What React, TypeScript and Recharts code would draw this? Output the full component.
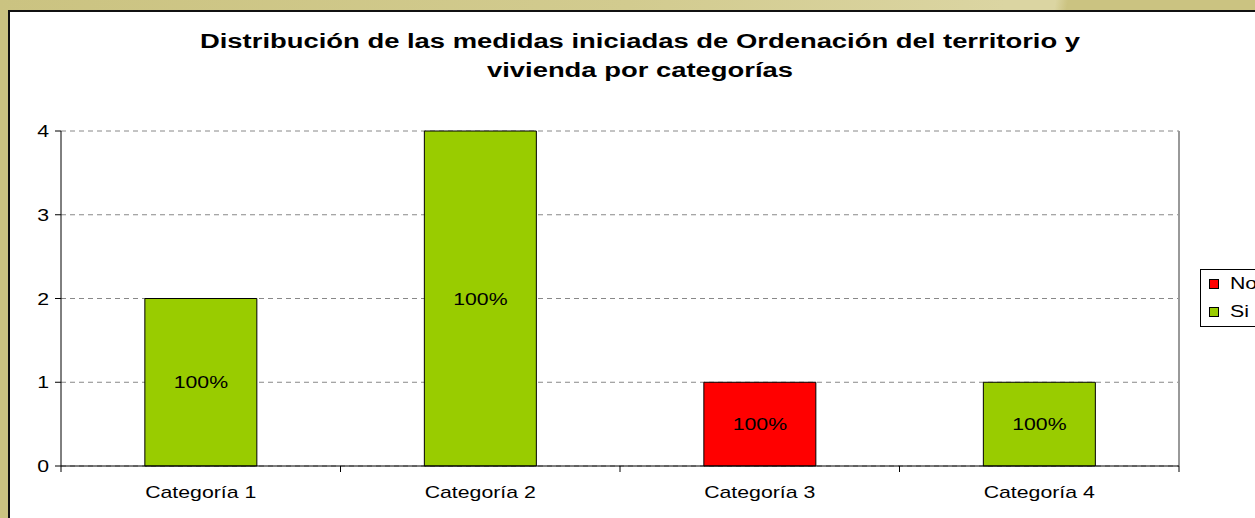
import React from 'react';
import {
    BarChart,
    Bar,
    XAxis,
    YAxis,
    CartesianGrid,
    LabelList
} from 'recharts';

// values
const categories = ['Categoría 1', 'Categoría 2', 'Categoría 3', 'Categoría 4'];
const noValues = [0, 0, 1, 0];
const siValues = [2, 4, 0, 1];
const yTicks = [0, 1, 2, 3, 4];
const titleLines = [
    'Distribución de las medidas iniciadas de Ordenación del territorio y',
    'vivienda por categorías'
];
const seriesNames = { no: 'No', si: 'Si' };

const W = 1255;
const H = 518;
const PLOT_LEFT = 61;
const PLOT_RIGHT = 1179;
const PLOT_TOP = 131;
const PLOT_BOTTOM = 466;
const X_AXIS_H = 30;
const Y_AXIS_W = 40;
const FONT = '"Liberation Sans", Arial, sans-serif';
const STRETCH = 1.33;
const GREEN = '#99CC00';
const RED = '#FF0000';

const chartData = categories.map((name, i) => {
    const total = noValues[i] + siValues[i];
    return {
        name,
        no: noValues[i],
        si: siValues[i],
        noPct: total ? Math.round((noValues[i] / total) * 100) : 0,
        siPct: total ? Math.round((siValues[i] / total) * 100) : 0,
    };
});

const halfBand = (PLOT_RIGHT - PLOT_LEFT) / categories.length / 2;

const CategoryTick = (props: any) => {
    const { x, payload, index } = props;
    const cx = payload?.coordinate ?? x;
    const half = payload?.offset || halfBand;
    return (
        <g>
            <line x1={cx - half} x2={cx - half} y1={PLOT_BOTTOM} y2={PLOT_BOTTOM + 6} stroke="#000" />
            {index === categories.length - 1 && (
                <line x1={cx + half} x2={cx + half} y1={PLOT_BOTTOM} y2={PLOT_BOTTOM + 6} stroke="#000" />
            )}
            <text
                transform={`translate(${cx},${PLOT_BOTTOM + 32}) scale(${STRETCH},1)`}
                textAnchor="middle"
                fontSize={16}
                fontFamily={FONT}
                fill="#000"
            >
                {payload.value}
            </text>
        </g>
    );
};

const ValueTick = (props: any) => {
    const { x, y, payload } = props;
    return (
        <text
            transform={`translate(${x - 4},${y + 6}) scale(${STRETCH},1)`}
            textAnchor="end"
            fontSize={16}
            fontFamily={FONT}
            fill="#000"
        >
            {payload.value}
        </text>
    );
};

const PctLabel = (props: any) => {
    const vb = props.viewBox ?? props;
    const { value } = props;
    if (!value) return null;
    const cx = vb.x + vb.width / 2;
    const cy = vb.y + vb.height / 2;
    return (
        <text
            transform={`translate(${cx},${cy + 6}) scale(${STRETCH},1)`}
            textAnchor="middle"
            fontSize={16}
            fontFamily={FONT}
            fill="#000"
        >
            {`${value}%`}
        </text>
    );
};

const LegendBox = () => (
    <div
        style={{
            position: 'absolute',
            left: 1200,
            top: 269,
            border: '1px solid #000',
            background: '#fff',
            width: 80,
            height: 56,
            fontFamily: FONT,
            fontSize: 16,
        }}
    >
        {[
            { name: seriesNames.no, color: RED },
            { name: seriesNames.si, color: GREEN },
        ].map((item) => (
            <div key={item.name} style={{ height: 28, display: 'flex', alignItems: 'center' }}>
                <span
                    style={{
                        display: 'inline-block',
                        width: 8,
                        height: 8,
                        marginLeft: 8,
                        marginRight: 11,
                        background: item.color,
                        border: '1px solid #000',
                    }}
                />
                <span style={{ display: 'inline-block', transform: `scaleX(${STRETCH})`, transformOrigin: 'left center' }}>
                    {item.name}
                </span>
            </div>
        ))}
    </div>
);

export default function App() {
    return (
        <div
            style={{
                position: 'absolute',
                left: 0,
                top: 0,
                width: W,
                height: H,
                overflow: 'hidden',
                background: '#cbc381',
            }}
        >
            <div
                style={{
                    position: 'absolute',
                    left: 0,
                    top: 0,
                    width: W,
                    height: 10,
                    background:
                        'linear-gradient(100deg, #cbc381 0%, #d2cb8f 50%, #dbd5a2 80%, #dbd5a2 84%, #cbc381 85%, #cbc381 100%)',
                }}
            />
            <div
                style={{
                    position: 'absolute',
                    left: 8,
                    top: 10,
                    width: W,
                    height: H,
                    background: '#fff',
                    borderLeft: '2px solid #111',
                    borderTop: '2px solid #111',
                }}
            />
            <div
                style={{
                    position: 'absolute',
                    left: 0,
                    top: 27,
                    width: 1280,
                    textAlign: 'center',
                    fontFamily: FONT,
                    fontWeight: 'bold',
                    fontSize: 20,
                    lineHeight: '29px',
                    color: '#000',
                    transform: 'scaleX(1.37)',
                    transformOrigin: '640px 0',
                }}
            >
                {titleLines.map((l) => (
                    <div key={l}>{l}</div>
                ))}
            </div>
            <div style={{ position: 'absolute', left: 0, top: 0 }}>
                <BarChart
                    width={W}
                    height={H}
                    data={chartData}
                    barCategoryGap="30%"
                    margin={{
                        top: PLOT_TOP,
                        right: W - PLOT_RIGHT,
                        bottom: H - PLOT_BOTTOM - X_AXIS_H,
                        left: PLOT_LEFT - Y_AXIS_W,
                    }}
                >
                    <CartesianGrid
                        vertical={false}
                        horizontal
                        stroke="#888"
                        strokeDasharray="5 4"
                    />
                    {/* solid grey right edge of the plot area */}
                    <CartesianGrid
                        horizontal={false}
                        vertical
                        stroke="#999"
                        strokeWidth={2}
                        verticalCoordinatesGenerator={({ offset }: any) => [offset.left + offset.width]}
                    />
                    <XAxis
                        dataKey="name"
                        height={X_AXIS_H}
                        axisLine={{ stroke: '#000' }}
                        tickLine={false}
                        tick={<CategoryTick />}
                        interval={0}
                    />
                    <YAxis
                        width={Y_AXIS_W}
                        domain={[0, 4]}
                        ticks={yTicks}
                        axisLine={{ stroke: '#000' }}
                        tickLine={{ stroke: '#000' }}
                        tickSize={6}
                        tick={<ValueTick />}
                    />
                    <Bar
                        dataKey="si"
                        name={seriesNames.si}
                        stackId="a"
                        fill={GREEN}
                        stroke="#000"
                        strokeWidth={1}
                        isAnimationActive={false}
                    >
                        <LabelList dataKey="siPct" content={<PctLabel />} />
                    </Bar>
                    <Bar
                        dataKey="no"
                        name={seriesNames.no}
                        stackId="a"
                        fill={RED}
                        stroke="#000"
                        strokeWidth={1}
                        isAnimationActive={false}
                    >
                        <LabelList dataKey="noPct" content={<PctLabel />} />
                    </Bar>
                </BarChart>
            </div>
            <LegendBox />
        </div>
    );
}
